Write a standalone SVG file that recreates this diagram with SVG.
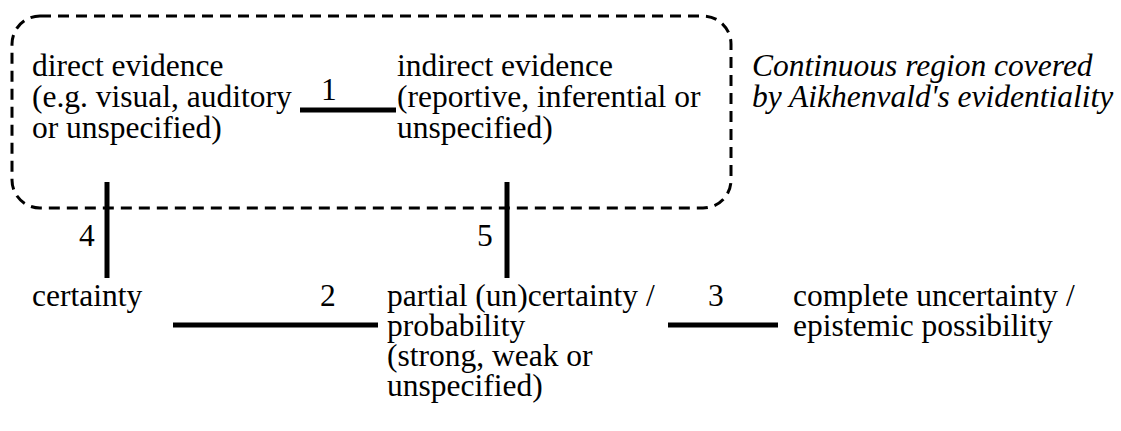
<svg xmlns="http://www.w3.org/2000/svg" width="1121" height="431" viewBox="0 0 1121 431">
<style>
.c{stroke:#000;stroke-width:5;fill:none}
.r{stroke:#000;stroke-width:3;fill:none;stroke-dasharray:11 7}
text{font-family:"Liberation Serif","Times New Roman",serif;font-size:31.5px;fill:#000}
.it{font-style:italic}
</style>
<rect width="1121" height="431" fill="#fff"/>
<g id="region"><rect class="r" x="12" y="16" width="719" height="192" rx="28" ry="28"/></g>
<g id="connectors">
<line class="c" x1="300" y1="110" x2="396" y2="110"/>
<line class="c" x1="107" y1="182" x2="107" y2="278"/>
<line class="c" x1="507" y1="182" x2="507" y2="278"/>
<line class="c" x1="173" y1="325" x2="378" y2="325"/>
<line class="c" x1="668" y1="325" x2="778" y2="325"/>
<text x="321" y="100">1</text>
<text x="320" y="306">2</text>
<text x="708" y="306">3</text>
<text x="79" y="246">4</text>
<text x="477" y="246">5</text>
</g>
<g id="direct"><text x="32" y="76">direct evidence</text><text x="32" y="107">(e.g. visual, auditory</text><text x="32" y="138">or unspecified)</text></g>
<g id="indirect"><text x="397" y="76">indirect evidence</text><text x="397" y="107">(reportive, inferential or</text><text x="397" y="138">unspecified)</text></g>
<g id="note"><text class="it" x="752" y="76">Continuous region covered</text><text class="it" x="752" y="107">by Aikhenvald's evidentiality</text></g>
<g id="certainty"><text x="32" y="306">certainty</text></g>
<g id="partial"><text x="387" y="306">partial (un)certainty /</text><text x="387" y="336">probability</text><text x="387" y="366">(strong, weak or</text><text x="387" y="396">unspecified)</text></g>
<g id="complete"><text x="793" y="306">complete uncertainty /</text><text x="793" y="336">epistemic possibility</text></g>
</svg>
